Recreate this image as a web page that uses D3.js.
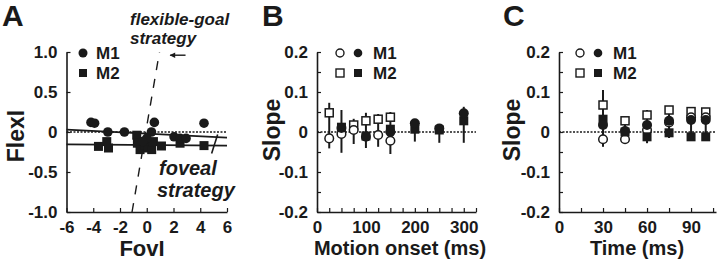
<!DOCTYPE html>
<html><head><meta charset="utf-8">
<script src="https://cdn.jsdelivr.net/npm/d3@7"></script>
<style>
html,body{margin:0;padding:0;background:#fff;}
text{font-family:"Liberation Sans",Arial,sans-serif;font-weight:bold;fill:#1a1a1a;}
</style></head>
<body>
<script>
// ---------- Panel A data ----------
const fovTicks = [-6,-4,-2,0,2,4,6];
const flexTicks = [-1,-0.5,0,0.5,1];
const m1FovI  = [-4.17,-3.9,-2.91,-1.67,0.57,0.35,0.0,-0.3,2.04,2.49,2.94,4.28];
const m1FlexI = [0.12,0.11,0.0,0.0,0.12,0.0,-0.08,-0.12,-0.06,-0.08,-0.08,0.11];
const m2FovI  = [-3.61,-2.99,-2.86,-0.75,-0.7,-0.5,-0.13,0.12,0.37,0.5,1.1,2.49,4.28];
const m2FlexI = [-0.18,-0.12,-0.2,-0.04,-0.14,-0.22,-0.16,-0.2,-0.22,-0.12,-0.175,-0.14,-0.17];
const fitX = [-6, 6];
const m1Fit = [0.03, -0.07];
const m2Fit = [-0.155, -0.17];
const flexGoalX = [-1.1, 0.95];
const flexGoalY = [-1, 1];
const fovealMarkX = [4.85, 5.3];
const fovealMarkY = [-0.27, -0.03];
const arrowX = [2.9, 1.75];
const arrowY = [0.96, 0.96];

// ---------- Panel B data ----------
const onsetTicks = [0,100,200,300];
const slopeTicks = [-0.2,-0.1,0,0.1,0.2];
const motionOnset = [25,50,75,100,125,150,200,250,300];
const bM1Open   = [-0.016,-0.005,0.005,null,-0.0075,-0.022,null,null,null];
const bM1Filled = [null,0.01,null,-0.012,null,0.0,0.022,0.009,0.047];
const bM2Open   = [0.048,null,0.0175,0.028,0.032,0.037,null,null,null];
const bM2Filled = [null,0.012,null,-0.01,null,0.007,0.007,0.005,0.028];
const bErrHigh  = [0.073,0.055,0.033,0.048,0.045,0.05,0.025,0.015,0.063];
const bErrLow   = [-0.041,-0.052,-0.03,-0.04,-0.037,-0.055,-0.024,-0.027,-0.027];

// ---------- Panel C data ----------
const timeTicks = [0,30,60,90];
const timeMs = [30,45,60,75,90,100];
const cM1Open   = [-0.018,-0.018,0.005,0.024,0.037,0.037];
const cM1Filled = [0.0175,0.0025,0.0175,0.028,0.03,0.03];
const cM2Open   = [0.0675,0.028,0.0425,0.055,0.051,0.05];
const cM2Filled = [0.032,0.0,-0.012,-0.002,-0.012,-0.012];
const cErrHigh  = [0.105,0.035,0.055,0.065,0.058,0.058];
const cErrLow   = [-0.037,-0.03,-0.028,-0.015,-0.012,-0.012];

const INK = "#1a1a1a";
const svg = d3.select("body").append("svg").attr("width",720).attr("height",261);

function styleAxis(g){
  g.select(".domain").attr("stroke",INK).attr("stroke-width",1.6);
  g.selectAll(".tick line").attr("stroke",INK).attr("stroke-width",1.2);
  g.selectAll(".tick text").style("font-size","17px").style("font-family","Liberation Sans, Arial, sans-serif").style("font-weight","bold").attr("fill",INK);
}

function drawAxes(x, y, xTickVals, xLabelVals, yTickVals, yLabelVals, yFmt){
  const gx = svg.append("g").attr("transform",`translate(0,${y.range()[0]})`)
    .call(d3.axisBottom(x).tickValues(xTickVals).tickSizeInner(-4).tickSizeOuter(0).tickPadding(9)
      .tickFormat(d => xLabelVals.some(v=>Math.abs(v-d)<1e-9) ? String(d) : ""));
  styleAxis(gx);
  const gy = svg.append("g").attr("transform",`translate(${x.range()[0]},0)`)
    .call(d3.axisLeft(y).tickValues(yTickVals).tickSizeInner(-4).tickSizeOuter(0).tickPadding(9)
      .tickFormat(d => yLabelVals.some(v=>Math.abs(v-d)<1e-9) ? yFmt(d) : ""));
  styleAxis(gy);
}

function zeroLine(x, y){
  svg.append("line").attr("x1",x.range()[0]).attr("x2",x.range()[1])
    .attr("y1",y(0)).attr("y2",y(0))
    .attr("stroke",INK).attr("stroke-width",1.5).attr("stroke-dasharray","2,1.5");
}

// ================= Panel A =================
const xA = d3.scaleLinear().domain([-6,6]).range([66.5,227]);
const yA = d3.scaleLinear().domain([-1,1]).range([212,52]);
drawAxes(xA, yA, fovTicks, fovTicks, flexTicks, flexTicks, d => d===0 ? "0" : d.toFixed(1));
zeroLine(xA, yA);

const lineA = d3.line().x(d=>xA(d[0])).y(d=>yA(d[1]));
svg.append("path").attr("d", lineA(fitX.map((v,i)=>[v,m1Fit[i]]))).attr("stroke",INK).attr("stroke-width",1.8).attr("fill","none");
svg.append("path").attr("d", lineA(fitX.map((v,i)=>[v,m2Fit[i]]))).attr("stroke",INK).attr("stroke-width",1.8).attr("fill","none");
svg.append("path").attr("d", lineA(flexGoalX.map((v,i)=>[v,flexGoalY[i]]))).attr("stroke",INK).attr("stroke-width",1.4).attr("stroke-dasharray","9,9").attr("fill","none");
svg.append("path").attr("d", lineA(fovealMarkX.map((v,i)=>[v,fovealMarkY[i]]))).attr("stroke",INK).attr("stroke-width",1.6).attr("fill","none");

// arrow (pointing left)
svg.append("defs").append("marker").attr("id","ah").attr("viewBox","0 0 10 10").attr("refX",9).attr("refY",5)
  .attr("markerWidth",5).attr("markerHeight",4).attr("orient","auto")
  .append("path").attr("d","M0,0 L10,5 L0,10 z").attr("fill",INK);
svg.append("path").attr("d", lineA(arrowX.map((v,i)=>[v,arrowY[i]])))
  .attr("stroke",INK).attr("stroke-width",1.4).attr("fill","none").attr("marker-end","url(#ah)");

svg.append("g").selectAll("rect").data(m2FovI.map((v,i)=>[v,m2FlexI[i]])).join("rect")
  .attr("x",d=>xA(d[0])-4.5).attr("y",d=>yA(d[1])-4.5).attr("width",9).attr("height",9).attr("fill",INK);
svg.append("g").selectAll("circle").data(m1FovI.map((v,i)=>[v,m1FlexI[i]])).join("circle")
  .attr("cx",d=>xA(d[0])).attr("cy",d=>yA(d[1])).attr("r",4.8).attr("fill",INK);

// legend A
svg.append("circle").attr("cx",83).attr("cy",53).attr("r",4.5).attr("fill",INK);
svg.append("rect").attr("x",79).attr("y",69).attr("width",8).attr("height",8).attr("fill",INK);
svg.append("text").attr("x",96).attr("y",59).style("font-size","17px").text("M1");
svg.append("text").attr("x",96).attr("y",79).style("font-size","17px").text("M2");

// annotations
svg.append("text").attr("x",130).attr("y",25).style("font-size","17px").style("font-style","italic").text("flexible-goal");
svg.append("text").attr("x",130).attr("y",44).style("font-size","17px").style("font-style","italic").text("strategy");
svg.append("text").attr("x",159).attr("y",175).style("font-size","20px").style("font-style","italic").text("foveal");
svg.append("text").attr("x",157).attr("y",197).style("font-size","20px").style("font-style","italic").text("strategy");

// titles A
svg.append("text").attr("x",2).attr("y",26).style("font-size","30px").text("A");
svg.append("text").attr("x",142).attr("y",256).attr("text-anchor","middle").style("font-size","22px").text("FovI");
svg.append("text").attr("transform","translate(24,136) rotate(-90)").attr("text-anchor","middle").style("font-size","23px").text("FlexI");

// ================= Panel B & C helper =================
function slopePanel(x, y, xs, m1o, m1f, m2o, m2f, eh, el, xTickVals, xLabelVals){
  drawAxes(x, y, xTickVals, xLabelVals, d3.range(-0.2,0.2001,0.05), slopeTicks, d => Math.abs(d)<1e-9 ? "0" : d.toFixed(1));
  zeroLine(x, y);
  const g = svg.append("g");
  g.selectAll("line.err").data(xs.map((v,i)=>[v,el[i],eh[i]])).join("line")
    .attr("x1",d=>x(d[0])).attr("x2",d=>x(d[0])).attr("y1",d=>y(d[1])).attr("y2",d=>y(d[2]))
    .attr("stroke",INK).attr("stroke-width",2);
  const pts = arr => xs.map((v,i)=>[v,arr[i]]).filter(d=>d[1]!==null);
  g.selectAll("rect.m2o").data(pts(m2o)).join("rect")
    .attr("x",d=>x(d[0])-4).attr("y",d=>y(d[1])-4).attr("width",8).attr("height",8)
    .attr("fill","#fff").attr("stroke",INK).attr("stroke-width",1.5);
  g.selectAll("circle.m1o").data(pts(m1o)).join("circle")
    .attr("cx",d=>x(d[0])).attr("cy",d=>y(d[1])).attr("r",4.3)
    .attr("fill","#fff").attr("stroke",INK).attr("stroke-width",1.5);
  g.selectAll("rect.m2f").data(pts(m2f)).join("rect")
    .attr("x",d=>x(d[0])-4.5).attr("y",d=>y(d[1])-4.5).attr("width",9).attr("height",9).attr("fill",INK);
  g.selectAll("circle.m1f").data(pts(m1f)).join("circle")
    .attr("cx",d=>x(d[0])).attr("cy",d=>y(d[1])).attr("r",5).attr("fill",INK);
}
function slopeLegend(x0){
  svg.append("circle").attr("cx",x0).attr("cy",53).attr("r",4).attr("fill","#fff").attr("stroke",INK).attr("stroke-width",1.4);
  svg.append("circle").attr("cx",x0+18).attr("cy",53).attr("r",4.3).attr("fill",INK);
  svg.append("rect").attr("x",x0-4).attr("y",69).attr("width",8).attr("height",8).attr("fill","#fff").attr("stroke",INK).attr("stroke-width",1.4);
  svg.append("rect").attr("x",x0+14).attr("y",69).attr("width",8).attr("height",8).attr("fill",INK);
  svg.append("text").attr("x",x0+33).attr("y",59).style("font-size","17px").text("M1");
  svg.append("text").attr("x",x0+33).attr("y",79).style("font-size","17px").text("M2");
}

// ================= Panel B =================
const xB = d3.scaleLinear().domain([0,325]).range([317,476]);
const yB = d3.scaleLinear().domain([-0.2,0.2]).range([212,52]);
slopePanel(xB, yB, motionOnset, bM1Open, bM1Filled, bM2Open, bM2Filled, bErrHigh, bErrLow, d3.range(0,326,25), onsetTicks);
slopeLegend(340);
svg.append("text").attr("x",262).attr("y",26).style("font-size","30px").text("B");
svg.append("text").attr("x",400).attr("y",255).attr("text-anchor","middle").style("font-size","20px").text("Motion onset (ms)");
svg.append("text").attr("transform","translate(280,130) rotate(-90)").attr("text-anchor","middle").style("font-size","23px").text("Slope");

// ================= Panel C =================
const xC = d3.scaleLinear().domain([0,107]).range([559,716]);
const yC = d3.scaleLinear().domain([-0.2,0.2]).range([212,52]);
slopePanel(xC, yC, timeMs, cM1Open, cM1Filled, cM2Open, cM2Filled, cErrHigh, cErrLow, d3.range(0,106,15), timeTicks);
slopeLegend(580);
svg.append("text").attr("x",503).attr("y",26).style("font-size","30px").text("C");
svg.append("text").attr("x",637).attr("y",255).attr("text-anchor","middle").style("font-size","20px").text("Time (ms)");
svg.append("text").attr("transform","translate(520,130) rotate(-90)").attr("text-anchor","middle").style("font-size","23px").text("Slope");
</script>
</body></html>
